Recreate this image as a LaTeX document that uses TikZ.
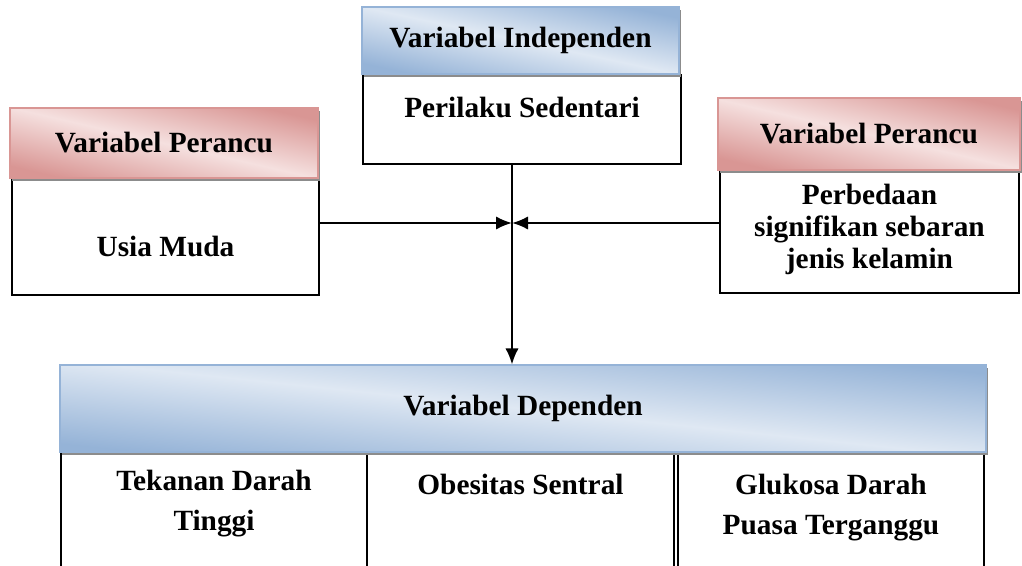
\documentclass[tikz,border=0pt]{standalone}
\usepackage{fontspec}
\setmainfont{Liberation Serif}
\usetikzlibrary{arrows.meta,positioning,shadows}

\definecolor{headblue}{RGB}{149,179,215}
\definecolor{paleblue}{RGB}{223,232,243}
\definecolor{headpink}{RGB}{217,150,148}
\definecolor{palepink}{RGB}{245,224,223}

\begin{document}
\begin{tikzpicture}[x=0.75pt,y=-0.75pt,>={Latex[length=12pt,width=10pt]},
    font=\fontsize{22}{30}\selectfont\bfseries]
  \tikzstyle{varbox}=[draw=black,fill=white,line width=1.4pt]
  \tikzstyle{vhead}=[draw=#1,line width=0.8pt,
    drop shadow={shadow xshift=1.5pt,shadow yshift=-2pt,fill=black!45,opacity=1}]
  \tikzstyle{bluehead}=[vhead=headblue,top color=headblue,bottom color=headblue,
    middle color=paleblue,shading angle=-12]
  \tikzstyle{pinkhead}=[vhead=headpink,top color=headpink,bottom color=headpink,
    middle color=palepink,shading angle=-13]

  \useasboundingbox (0,0) rectangle (1022,566);
  \clip (0,0) rectangle (1022,566);

  % independen
  \node[varbox, minimum width=238.5pt, minimum height=66.75pt] (indBox) at (522,119.5) {};
  \node (indText) at (522,108) {Perilaku Sedentari};
  \node[bluehead, minimum width=237.75pt, minimum height=50.25pt] (indHead) at (520.5,40.5) {Variabel Independen};

  % perancu kiri
  \node[varbox, minimum width=230.25pt, minimum height=87pt] (confLBox) at (165.5,237) {};
  \node (confLText) at (165.5,247) {Usia Muda};
  \node[pinkhead, minimum width=231pt, minimum height=52.5pt] (confLHead) at (164,143) {Variabel Perancu};

  % perancu kanan
  \node[varbox, minimum width=224.25pt, minimum height=91.5pt] (confRBox) at (869.5,232) {};
  \node[align=center, font=\fontsize{22}{24}\selectfont\bfseries] (confRText) at (869.5,229)
    {Perbedaan\\signifikan sebaran\\jenis kelamin};
  \node[pinkhead, minimum width=226.5pt, minimum height=54pt] (confRHead) at (869,134) {Variabel Perancu};

  % dependen
  \node[varbox, minimum width=229.5pt, minimum height=91.5pt] (depBoxA) at (214,514) {};
  \node[varbox, minimum width=230.25pt, minimum height=91.5pt] (depBoxB) at (520.5,514) {};
  \node[varbox, minimum width=229.5pt, minimum height=91.5pt] (depBoxC) at (831,514) {};
  \node[align=center] (depTextA) at (214,504) {Tekanan Darah\\Tinggi};
  \node (depTextB) at (520.5,484) {Obesitas Sentral};
  \node[align=center] (depTextC) at (831,508) {Glukosa Darah\\Puasa Terganggu};
  \node[bluehead, shading angle=-6, minimum width=694.5pt, minimum height=65.25pt] (depHead) at (523,408.5) {Variabel Dependen};

  \coordinate (hub) at (512,223);
  \draw[->,line width=1.6pt] (indBox.south -| hub) -- (hub |- depHead.north);
  \draw[->,line width=1.6pt] (confLBox.east |- hub) -- (hub);
  \draw[->,line width=1.6pt] (confRBox.west |- hub) -- (hub);
\end{tikzpicture}
\end{document}
